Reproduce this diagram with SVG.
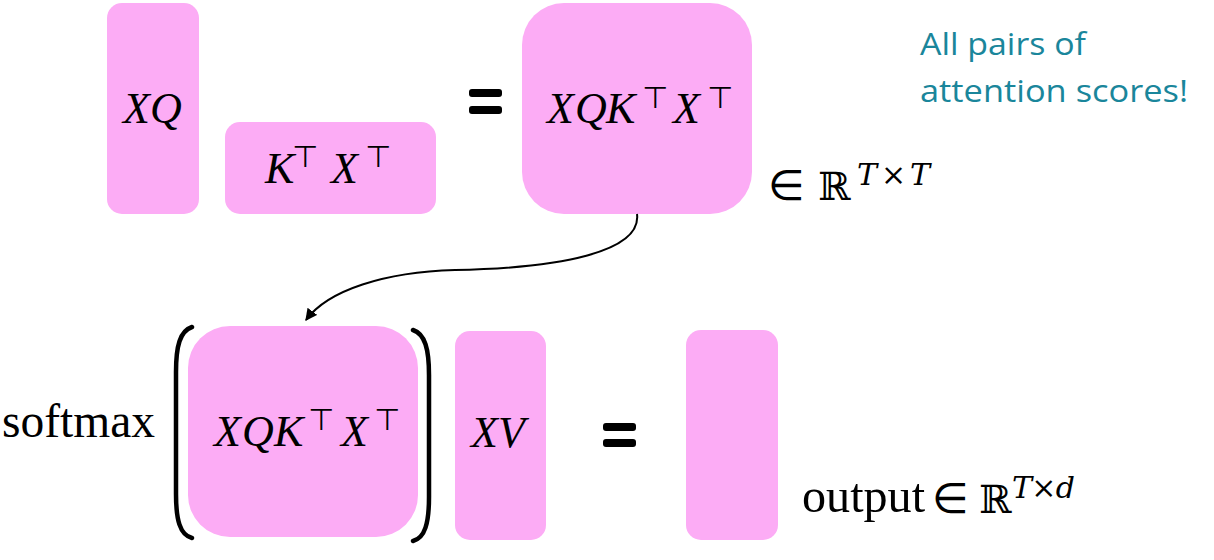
<svg xmlns="http://www.w3.org/2000/svg" width="1214" height="560" viewBox="0 0 1214 560">
  <style>
    .box { fill: #FCACF5; }
    .m { font-family: "Liberation Serif", serif; font-style: italic; font-size: 44px; fill: #000; }
    .t { font-family: "DejaVu Sans", sans-serif; font-style: normal; font-size: 30px; }
    .rm { font-family: "Liberation Serif", serif; font-size: 48px; fill: #000; }
    .sym { font-family: "DejaVu Sans", sans-serif; font-size: 42px; fill: #000; }
    .dbl { font-family: "DejaVu Serif", "DejaVu Sans", serif; font-size: 39px; fill: #000; }
    .sup { font-family: "DejaVu Serif", serif; font-size: 30px; fill: #000; }
    .note { font-family: "Open Sans", "Liberation Sans", sans-serif; font-size: 31px; fill: #1A869B; }
    .eq { fill: #000; }
    .paren { fill: none; stroke: #000; stroke-width: 4.5; stroke-linecap: round; }
    .conn { fill: none; stroke: #000; stroke-width: 2; }
  </style>
  <defs>
    <marker id="arrow" viewBox="0 0 10 10" refX="9" refY="5" markerWidth="6" markerHeight="6" orient="auto" markerUnits="strokeWidth">
      <path d="M0,0 L10,5 L0,10 z" fill="#000"/>
    </marker>
  </defs>
  <rect width="1214" height="560" fill="#fff"/>

  <g id="xq">
    <rect class="box" x="107" y="3" width="92" height="211" rx="15"/>
    <text class="m" y="123"><tspan x="123">X</tspan><tspan x="150">Q</tspan></text>
  </g>

  <g id="kt-xt">
    <rect class="box" x="225" y="122" width="211" height="92" rx="15"/>
    <text class="m" y="183"><tspan x="265">K</tspan><tspan class="t" x="292" y="167">⊤</tspan><tspan x="331" y="183">X</tspan><tspan class="t" x="365" y="167">⊤</tspan></text>
  </g>

  <g id="eq-top">
    <rect class="eq" x="469" y="89" width="33" height="8" rx="3"/>
    <rect class="eq" x="469" y="106" width="33" height="8" rx="3"/>
  </g>

  <g id="scores">
    <rect class="box" x="522" y="3" width="230" height="211" rx="42"/>
    <text class="m" y="123"><tspan x="547">X</tspan><tspan x="575">Q</tspan><tspan x="606">K</tspan><tspan class="t" x="642" y="108">⊤</tspan><tspan x="673" y="123">X</tspan><tspan class="t" x="707" y="108">⊤</tspan></text>
  </g>

  <g id="scores-dim">
    <text class="sym" x="768" y="200">∈</text>
    <text class="dbl" x="818" y="200">ℝ</text>
    <text class="sup" x="857" y="185" textLength="73" lengthAdjust="spacing"><tspan font-style="italic">T</tspan><tspan>×</tspan><tspan font-style="italic">T</tspan></text>
  </g>

  <g id="note">
    <text class="note" x="920" y="55" textLength="166" lengthAdjust="spacingAndGlyphs">All pairs of</text>
    <text class="note" x="920" y="102" textLength="268" lengthAdjust="spacingAndGlyphs">attention scores!</text>
  </g>

  <g id="connectors">
    <path class="conn" d="M637,214 C642,252 560,268 455,270 C385,272 328,290 306,320" marker-end="url(#arrow)"/>
  </g>

  <g id="softmax">
    <text class="rm" x="2" y="437" textLength="153" lengthAdjust="spacingAndGlyphs">softmax</text>
    <path class="paren" d="M192,327 C180,331 176,346 176,372 L176,494 C176,520 180,535 192,538"/>
    <path class="paren" d="M413,330 C425,334 429,349 429,375 L429,497 C429,523 425,538 413,541"/>
  </g>

  <g id="scores-softmax">
    <rect class="box" x="188" y="326" width="230" height="211" rx="42"/>
    <text class="m" y="446"><tspan x="214">X</tspan><tspan x="242">Q</tspan><tspan x="274">K</tspan><tspan class="t" x="308" y="430">⊤</tspan><tspan x="341" y="446">X</tspan><tspan class="t" x="374" y="430">⊤</tspan></text>
  </g>

  <g id="xv">
    <rect class="box" x="455" y="331" width="91" height="209" rx="15"/>
    <text class="m" y="447"><tspan x="471">X</tspan><tspan x="498">V</tspan></text>
  </g>

  <g id="eq-bottom">
    <rect class="eq" x="603" y="423" width="33" height="8" rx="3"/>
    <rect class="eq" x="603" y="439" width="33" height="8" rx="3"/>
  </g>

  <g id="output">
    <rect class="box" x="686" y="330" width="92" height="210" rx="15"/>
  </g>

  <g id="output-dim">
    <text class="rm" x="802" y="512" textLength="123" lengthAdjust="spacingAndGlyphs">output</text>
    <text class="sym" x="932" y="513">∈</text>
    <text class="dbl" x="979" y="513">ℝ</text>
    <text class="sup" x="1012" y="498" textLength="63" lengthAdjust="spacing"><tspan font-style="italic">T</tspan><tspan>×</tspan><tspan font-style="italic">d</tspan></text>
  </g>
</svg>
